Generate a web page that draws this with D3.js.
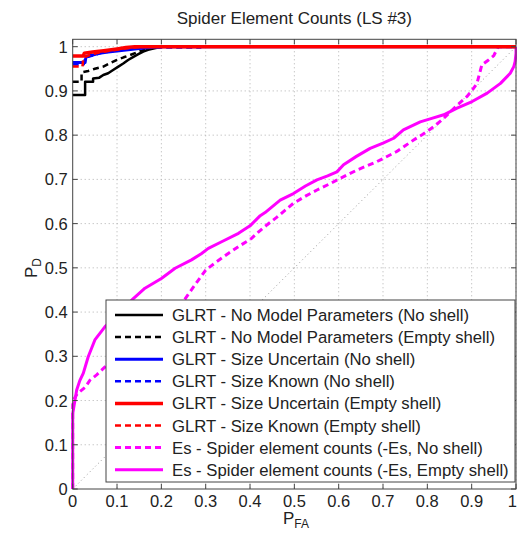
<!DOCTYPE html>
<html><head><meta charset="utf-8">
<script src="https://cdn.jsdelivr.net/npm/d3@7"></script>
<style>body{margin:0;background:#fff}svg{display:block}text{font-family:"Liberation Sans",Arial,sans-serif;fill:#222}</style>
</head><body><svg id="c" width="517" height="537"></svg>
<script>
const title = "Spider Element Counts (LS #3)";
const xTicks = [0,0.1,0.2,0.3,0.4,0.5,0.6,0.7,0.8,0.9,1];
const yTicks = [0,0.1,0.2,0.3,0.4,0.5,0.6,0.7,0.8,0.9,1];
const xTickLabels = ["0","0.1","0.2","0.3","0.4","0.5","0.6","0.7","0.8","0.9","1"];
const yTickLabels = ["0","0.1","0.2","0.3","0.4","0.5","0.6","0.7","0.8","0.9","1"];

// [PFA, PD] pairs
const glrtNoModelNoShell = [[0,0.891],[0.028,0.891],[0.028,0.921],[0.046,0.921],[0.046,0.928],[0.06,0.93],[0.069,0.936],[0.08,0.94],[0.092,0.948],[0.103,0.955],[0.114,0.962],[0.125,0.97],[0.137,0.977],[0.148,0.983],[0.159,0.989],[0.17,0.993],[0.182,0.996],[0.2,1],[1,1]];
const glrtNoModelEmpty = [[0,0.921],[0.02,0.921],[0.02,0.942],[0.035,0.945],[0.05,0.95],[0.069,0.955],[0.085,0.963],[0.1,0.97],[0.115,0.976],[0.129,0.981],[0.145,0.987],[0.159,0.992],[0.18,0.997],[0.2,1],[1,1]];
const sizeUncNoShell = [[0,0.964],[0.028,0.964],[0.03,0.978],[0.045,0.981],[0.06,0.985],[0.08,0.988],[0.1,0.99],[0.125,0.993],[0.15,0.996],[0.17,0.998],[0.2,1],[1,1]];
const sizeKnownNoShell = [[0,0.96],[0.025,0.96],[0.028,0.975],[0.045,0.98],[0.065,0.986],[0.09,0.99],[0.12,0.994],[0.16,0.997],[0.2,0.998],[0.288,0.998],[0.29,1],[1,1]];
const sizeUncEmpty = [[0,0.979],[0.024,0.979],[0.026,0.985],[0.045,0.988],[0.07,0.991],[0.1,0.995],[0.12,0.998],[0.14,1],[1,1]];
const sizeKnownEmpty = [[0,0.955],[0.022,0.955],[0.024,0.975],[0.04,0.982],[0.06,0.987],[0.085,0.991],[0.11,0.995],[0.14,0.998],[0.16,1],[1,1]];
const esNoShell = [[0,0],[0,0.19],[0.004,0.205],[0.01,0.215],[0.028,0.23],[0.039,0.246],[0.054,0.258],[0.073,0.276],[0.1,0.3],[0.15,0.35],[0.2,0.39],[0.25,0.425],[0.284,0.473],[0.3,0.495],[0.325,0.514],[0.35,0.532],[0.374,0.548],[0.404,0.567],[0.42,0.582],[0.438,0.597],[0.46,0.614],[0.498,0.646],[0.525,0.662],[0.551,0.676],[0.58,0.69],[0.603,0.702],[0.641,0.721],[0.686,0.74],[0.731,0.763],[0.75,0.776],[0.769,0.789],[0.79,0.802],[0.814,0.819],[0.835,0.836],[0.852,0.853],[0.87,0.87],[0.889,0.887],[0.9,0.9],[0.912,0.917],[0.918,0.94],[0.923,0.959],[0.938,0.97],[0.95,0.98],[0.955,0.99],[0.96,1.0],[1,1]];
const esEmpty = [[0,0],[0,0.17],[0.005,0.2],[0.009,0.224],[0.016,0.245],[0.024,0.262],[0.035,0.299],[0.05,0.337],[0.073,0.367],[0.1,0.393],[0.12,0.412],[0.133,0.427],[0.163,0.454],[0.2,0.476],[0.231,0.499],[0.268,0.518],[0.29,0.532],[0.306,0.544],[0.336,0.559],[0.374,0.578],[0.4,0.595],[0.423,0.618],[0.434,0.625],[0.468,0.653],[0.498,0.668],[0.525,0.685],[0.551,0.699],[0.575,0.708],[0.596,0.717],[0.611,0.733],[0.64,0.752],[0.671,0.77],[0.7,0.782],[0.724,0.793],[0.746,0.812],[0.784,0.83],[0.81,0.838],[0.837,0.846],[0.867,0.861],[0.901,0.876],[0.935,0.895],[0.965,0.917],[0.987,0.94],[0.995,0.955],[0.998,0.966],[1,0.985],[1,1]];

const seriesNames = [
  "GLRT - No Model Parameters (No shell)",
  "GLRT - No Model Parameters (Empty shell)",
  "GLRT - Size Uncertain (No shell)",
  "GLRT - Size Known (No shell)",
  "GLRT - Size Uncertain (Empty shell)",
  "GLRT - Size Known (Empty shell)",
  "Es - Spider element counts (-Es, No shell)",
  "Es - Spider element counts (-Es, Empty shell)"
];
const seriesData = [glrtNoModelNoShell, glrtNoModelEmpty, sizeUncNoShell, sizeKnownNoShell, sizeUncEmpty, sizeKnownEmpty, esNoShell, esEmpty];
const seriesColors = ["#000000","#000000","#0000ff","#0000ff","#ff0000","#ff0000","#ff00ff","#ff00ff"];
const seriesDashed = [false,true,false,true,false,true,true,false];
const seriesWidths = [2.5,2.5,3,2.5,3.5,2.5,3,3];
const drawOrder = [6,7,0,1,3,2,5,4];

const svg = d3.select("#c");
const L = 72.7, R = 516, T = 39.3, B = 489;
const x = d3.scaleLinear().domain([0,1]).range([L,R]);
const y = d3.scaleLinear().domain([0,1.0167]).range([B,T]);
const FS = 16.5;

svg.append("rect").attr("x",L).attr("y",T).attr("width",R-L).attr("height",B-T).attr("fill","#fff");

const g = svg.append("g");
g.selectAll(".gx").data(xTicks.slice(1)).join("line")
  .attr("x1",d=>x(d)).attr("x2",d=>x(d)).attr("y1",T).attr("y2",B)
  .attr("stroke","#b0b0b0").attr("stroke-width",1).attr("stroke-dasharray","1,3");
g.selectAll(".gy").data(yTicks.slice(1)).join("line")
  .attr("x1",L).attr("x2",R).attr("y1",d=>y(d)).attr("y2",d=>y(d))
  .attr("stroke","#b0b0b0").attr("stroke-width",1).attr("stroke-dasharray","1,3");
svg.append("line").attr("x1",x(0)).attr("y1",y(0)).attr("x2",x(1)).attr("y2",y(1))
  .attr("stroke","#999").attr("stroke-width",1).attr("stroke-dasharray","1,3");

const line = d3.line().x(d=>x(d[0])).y(d=>y(d[1]));
drawOrder.forEach(i=>{
  svg.append("path").attr("d",line(seriesData[i])).attr("fill","none")
    .attr("stroke",seriesColors[i]).attr("stroke-width",seriesWidths[i])
    .attr("stroke-dasharray",seriesDashed[i]?"6,4":null)
    .attr("stroke-linejoin","round");
});

const axG = svg.append("g");
axG.append("rect").attr("x",L).attr("y",T).attr("width",R-L).attr("height",B-T)
  .attr("fill","none").attr("stroke","#444").attr("stroke-width",1);
const tl = 5;
xTicks.forEach(t=>{
  axG.append("line").attr("x1",x(t)).attr("x2",x(t)).attr("y1",B).attr("y2",B-tl).attr("stroke","#444");
  axG.append("line").attr("x1",x(t)).attr("x2",x(t)).attr("y1",T).attr("y2",T+tl).attr("stroke","#444");
});
yTicks.forEach(t=>{
  axG.append("line").attr("x1",L).attr("x2",L+tl).attr("y1",y(t)).attr("y2",y(t)).attr("stroke","#444");
  axG.append("line").attr("x1",R).attr("x2",R-tl).attr("y1",y(t)).attr("y2",y(t)).attr("stroke","#444");
});
axG.selectAll(".xt").data(xTicks).join("text")
  .attr("x",(d,i)=> i===xTicks.length-1 ? 517 : x(d))
  .attr("y",B+18)
  .attr("text-anchor",(d,i)=> i===xTicks.length-1 ? "end" : "middle")
  .attr("font-size",FS)
  .text((d,i)=>xTickLabels[i]);
axG.selectAll(".yt").data(yTicks).join("text")
  .attr("x",L-5).attr("y",d=>y(d)+6).attr("text-anchor","end").attr("font-size",FS)
  .text((d,i)=>yTickLabels[i]);

svg.append("text").attr("x",(L+R)/2).attr("y",24).attr("text-anchor","middle").attr("font-size",17).text(title);

const xl = svg.append("text").attr("x",296).attr("y",524).attr("text-anchor","middle").attr("font-size",17);
xl.append("tspan").text("P");
xl.append("tspan").attr("font-size",12).attr("dy",4).text("FA");
const yl = svg.append("text").attr("transform","translate(37,268) rotate(-90)").attr("text-anchor","middle").attr("font-size",17);
yl.append("tspan").text("P");
yl.append("tspan").attr("font-size",12).attr("dy",4).text("D");

const lg = svg.append("g");
const lx = 106, ly = 300, lw = 409, lh = 182;
lg.append("rect").attr("x",lx).attr("y",ly).attr("width",lw).attr("height",lh).attr("fill","#fff").attr("stroke","#444");
seriesNames.forEach((n,i)=>{
  const cy = ly + 15 + i*22.1;
  lg.append("line").attr("x1",lx+9).attr("x2",lx+57).attr("y1",cy).attr("y2",cy)
    .attr("stroke",seriesColors[i]).attr("stroke-width",seriesWidths[i])
    .attr("stroke-dasharray",seriesDashed[i]?"6,4":null);
  lg.append("text").attr("x",lx+66).attr("y",cy+6).attr("font-size",16.7).text(n);
});
</script></body></html>
